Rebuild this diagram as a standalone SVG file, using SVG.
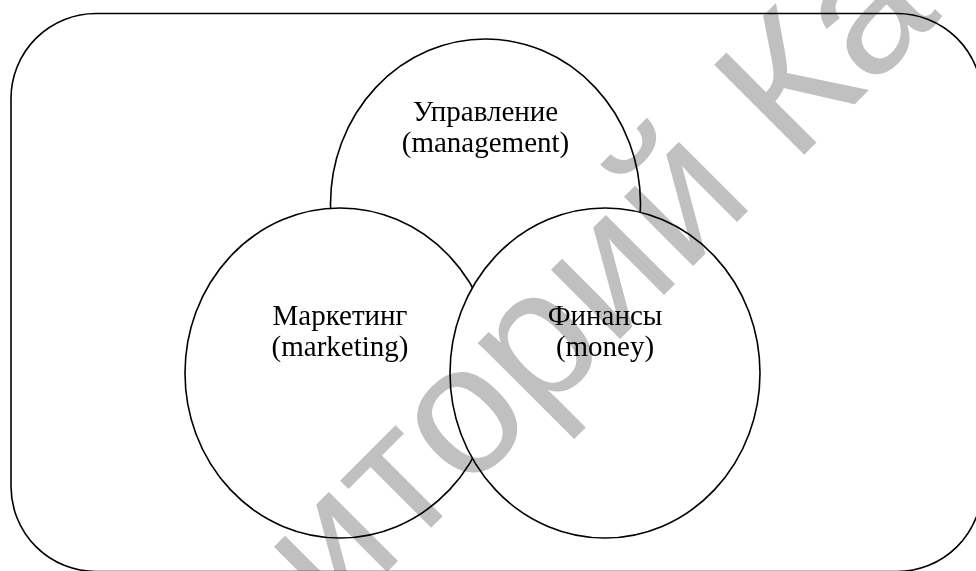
<svg xmlns="http://www.w3.org/2000/svg" width="976" height="571" viewBox="0 0 976 571">
  <style>
    .line { fill: none; stroke: #000; stroke-width: 1.6; }
    .shape { fill: #fff; stroke: #000; stroke-width: 1.6; }
    .label { font-family: "Liberation Serif", "Times New Roman", serif; font-size: 29px; fill: #000; text-anchor: middle; }
    .wm { font-family: "Liberation Sans", Arial, sans-serif; font-size: 185px; fill: #c0c0c0; mix-blend-mode: multiply; }
  </style>
  <rect x="0" y="0" width="976" height="571" fill="#fff"/>
  <g id="frame">
    <rect class="line" x="11" y="13.5" width="971" height="558" rx="85" ry="85"/>
  </g>
  <g id="management">
    <ellipse class="shape" cx="485.5" cy="204" rx="155" ry="165"/>
    <text class="label" x="485.5" y="121">Управление</text>
    <text class="label" x="485.5" y="152">(management)</text>
  </g>
  <g id="marketing">
    <ellipse class="shape" cx="340" cy="373" rx="155" ry="165"/>
    <text class="label" x="340" y="325">Маркетинг</text>
    <text class="label" x="340" y="356">(marketing)</text>
  </g>
  <g id="finance">
    <ellipse class="shape" cx="605" cy="373" rx="155" ry="165"/>
    <text class="label" x="605" y="325">Финансы</text>
    <text class="label" x="605" y="356">(money)</text>
  </g>
  <g id="connectors"/>
  <text class="wm" x="334" y="625" transform="rotate(-45 334 625)">иторий Ка</text>
</svg>
